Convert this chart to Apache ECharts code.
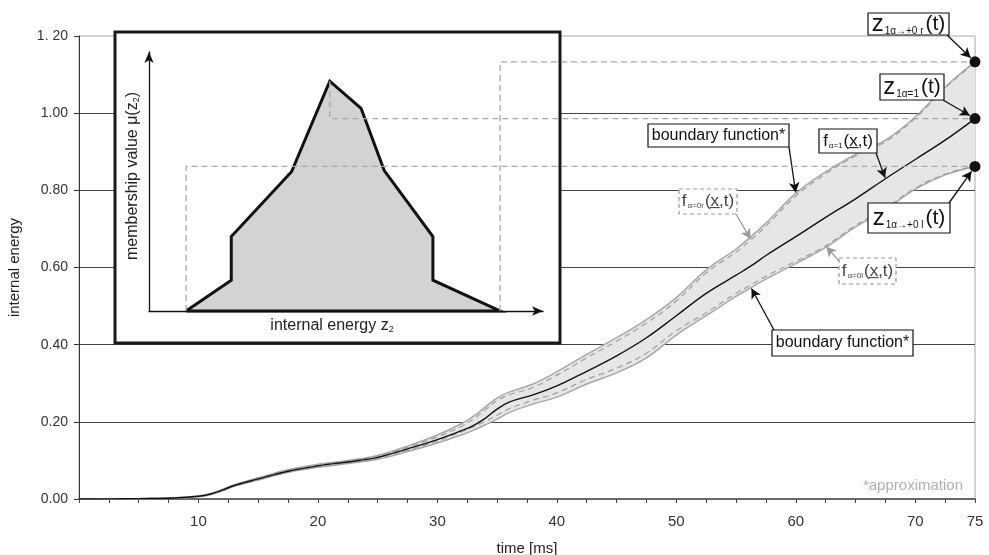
<!DOCTYPE html>
<html>
<head>
<meta charset="utf-8">
<script src="https://cdn.jsdelivr.net/npm/echarts@6/dist/echarts.min.js"></script>
<style>
  html, body { margin: 0; padding: 0; background: #fff; }
  #chart { width: 989px; height: 555px; }
</style>
</head>
<body>
<div id="chart"></div>
<script>
// time samples [ms]
const time = [0, 2.5, 5, 7.5, 10, 11, 12, 13, 15, 17.5, 20, 22.5, 25, 27.5, 30, 32, 33, 34, 35, 36, 38, 40,
              42.5, 45, 47.5, 50, 52.5, 55, 56.25, 57.5, 60, 62.5, 65, 67.5, 70, 72.5, 75];

// f_{alpha=1}(x,t)
const centerValues = [0, 0.0003, 0.001, 0.002, 0.007, 0.013, 0.023, 0.035, 0.052, 0.072, 0.086, 0.096, 0.108, 0.130,
                      0.154, 0.177, 0.190, 0.209, 0.233, 0.251, 0.270, 0.293, 0.331, 0.371, 0.418, 0.475, 0.533,
                      0.580, 0.604, 0.631, 0.680, 0.730, 0.778, 0.830, 0.880, 0.930, 0.986];

// upper boundary function (alpha -> +0, right)
const upperValues = [0, 0.0004, 0.0012, 0.003, 0.008, 0.014, 0.025, 0.037, 0.055, 0.076, 0.090, 0.100, 0.113, 0.137,
                     0.166, 0.195, 0.214, 0.238, 0.262, 0.277, 0.298, 0.330, 0.375, 0.418, 0.465, 0.522, 0.594,
                     0.648, 0.680, 0.715, 0.792, 0.848, 0.893, 0.930, 0.990, 1.068, 1.133];

// f_{alpha=0r}(x,t)
const upperDashValues = [0, 0.0004, 0.0011, 0.003, 0.008, 0.013, 0.024, 0.036, 0.054, 0.075, 0.088, 0.098, 0.111, 0.134,
                         0.161, 0.188, 0.207, 0.231, 0.255, 0.270, 0.289, 0.321, 0.366, 0.409, 0.456, 0.513, 0.586,
                         0.640, 0.672, 0.707, 0.785, 0.843, 0.889, 0.926, 0.987, 1.065, 1.131];

// lower boundary function (alpha -> +0, left)
const lowerValues = [0, 0.0002, 0.0008, 0.0015, 0.006, 0.011, 0.021, 0.033, 0.049, 0.069, 0.082, 0.092, 0.103, 0.123,
                     0.145, 0.166, 0.178, 0.192, 0.207, 0.224, 0.246, 0.264, 0.298, 0.327, 0.366, 0.425, 0.475,
                     0.525, 0.548, 0.570, 0.610, 0.652, 0.705, 0.750, 0.803, 0.840, 0.862];

// f_{alpha=0l}(x,t)
const lowerDashValues = [0, 0.0003, 0.0009, 0.0017, 0.0065, 0.0115, 0.0215, 0.0335, 0.0495, 0.0695, 0.083, 0.093, 0.104,
                         0.126, 0.150, 0.174, 0.187, 0.201, 0.217, 0.234, 0.256, 0.275, 0.310, 0.339, 0.378, 0.436,
                         0.483, 0.533, 0.555, 0.577, 0.616, 0.656, 0.709, 0.753, 0.806, 0.842, 0.863];

const xTickLabels = [10, 20, 30, 40, 50, 60, 70, 75];
const yTickLabels = ['0.00', '0.20', '0.40', '0.60', '0.80', '1.00', '1. 20'];

// membership function of the internal energy at t = 75 ms
const membershipEnergy = [0.862, 0.901, 0.901, 0.953, 0.986, 1.013, 1.033, 1.075, 1.075, 1.133];
const membershipValue  = [0, 0.134, 0.324, 0.606, 1, 0.882, 0.611, 0.324, 0.134, 0];

const FONT = "'Liberation Sans', Arial, Helvetica, sans-serif";
const SMOOTH = 0.4;
const pairs = ys => time.map((x, i) => [x, ys[i]]);
const last = a => a[a.length - 1];
const at = (ys, x) => ys[time.indexOf(x)];
const tEnd = last(time);

const membershipPath = membershipEnergy.map((e, i) => [e, membershipValue[i]]);
membershipPath.push([membershipEnergy[0], membershipValue[0]]);
const peakIndex = membershipValue.indexOf(Math.max(...membershipValue));

// annotation boxes (pixel layout)
const zRich = {
  z: { fontSize: 24, fontFamily: FONT, fill: '#111' },
  s: { fontSize: 10, fontFamily: FONT, fill: '#111', verticalAlign: 'bottom', padding: [0, 2, 0, 1] },
  p: { fontSize: 21, fontFamily: FONT, fill: '#111' }
};
const fRich = color => ({
  f: { fontSize: 17, fontFamily: FONT, fill: color },
  s: { fontSize: 8, fontFamily: FONT, fill: color, verticalAlign: 'bottom', padding: [0, 1, 0, 1] },
  p: { fontSize: 17, fontFamily: FONT, fill: color }
});
const boxes = [
  { x: 868, y: 13,  w: 81,  h: 22, text: '{z|z}{s|1α→+0 r}{p|(t)}', rich: zRich },
  { x: 880, y: 74,  w: 64,  h: 26, text: '{z|z}{s|1α=1}{p|(t)}', rich: zRich },
  { x: 868, y: 203, w: 82,  h: 30, text: '{z|z}{s|1α→+0 l}{p|(t)}', rich: zRich },
  { x: 648, y: 124, w: 141, h: 23, text: 'boundary function*', size: 16 },
  { x: 819, y: 129, w: 58,  h: 24, text: '{f|f}{s|α=1}{p|(x\u0332,t)}', rich: fRich('#111') },
  { x: 679, y: 189, w: 58,  h: 25, text: '{f|f}{s|α=0r}{p|(x\u0332,t)}', rich: fRich('#444'), dashed: true },
  { x: 839, y: 258, w: 57,  h: 26, text: '{f|f}{s|α=0l}{p|(x\u0332,t)}', rich: fRich('#444'), dashed: true },
  { x: 772, y: 330, w: 141, h: 26, text: 'boundary function*', size: 16 }
];

const graphics = [
  // inset frame
  { type: 'rect', z: 1, shape: { x: 115, y: 32, width: 445, height: 311 },
    style: { fill: '#fff', stroke: '#1a1a1a', lineWidth: 3 } },
  { type: 'text', z: 20, style: { text: '*approximation', x: 963, y: 486, align: 'right', verticalAlign: 'middle',
    fontSize: 15, fontFamily: FONT, fill: '#b0b0b0' } }
];
boxes.forEach(b => {
  graphics.push({ type: 'rect', z: 20, shape: { x: b.x, y: b.y, width: b.w, height: b.h },
    style: { fill: '#fff', stroke: b.dashed ? '#9a9a9a' : '#111', lineWidth: 1.2, lineDash: b.dashed ? [4, 3] : null } });
  const st = { text: b.text, x: b.x + b.w / 2, y: b.y + b.h / 2, align: 'center', verticalAlign: 'middle',
               fontFamily: FONT, fontSize: b.size || 16, fill: '#111' };
  if (b.rich) st.rich = b.rich;
  graphics.push({ type: 'text', z: 21, style: st });
});

// shaded region between the two boundary functions
function renderBand(params, api) {
  const pts = [];
  for (let i = 0; i < time.length; i++) pts.push(api.coord([time[i], upperValues[i]]));
  for (let i = time.length - 1; i >= 0; i--) pts.push(api.coord([time[i], lowerValues[i]]));
  return { type: 'polygon', shape: { points: pts }, style: { fill: '#e6e6e6' } };
}

const gray = '#a8a8a8';
const option = {
  animation: false,
  backgroundColor: '#fff',
  textStyle: { fontFamily: FONT },
  graphic: graphics,
  grid: [
    { left: 79, right: 14, top: 36, bottom: 56, show: true, borderColor: '#a8a8a8', borderWidth: 1,
      containLabel: false, outerBoundsMode: 'none' },
    { left: 149, top: 52, width: 394, height: 259, containLabel: false, outerBoundsMode: 'none' }
  ],
  xAxis: [
    {
      type: 'value', gridIndex: 0, min: 0, max: 75, interval: 2.5,
      axisLine: { show: true, lineStyle: { color: '#6a6a6a', width: 2 } },
      axisTick: { show: true, length: 4, lineStyle: { color: '#444' } },
      axisLabel: { fontSize: 15, color: '#333', margin: 15, showMaxLabel: true,
        formatter: v => (xTickLabels.indexOf(v) >= 0 ? String(v) : '') },
      splitLine: { show: false },
      name: 'time [ms]', nameLocation: 'middle', nameGap: 42,
      nameTextStyle: { fontSize: 15, color: '#222' }
    },
    {
      type: 'value', gridIndex: 1, min: 0.830, max: 1.170, z: 5,
      axisLine: { show: true, onZero: true, symbol: ['none', 'arrow'], symbolSize: [7, 11],
        lineStyle: { color: '#111', width: 1.3 } },
      axisTick: { show: false }, axisLabel: { show: false }, splitLine: { show: false },
      name: '{a|internal energy z}{s|2}', nameLocation: 'middle', nameGap: 7,
      nameTextStyle: { padding: [0, 28, 0, 0],
        rich: { a: { fontSize: 16, color: '#222' }, s: { fontSize: 9, color: '#222', verticalAlign: 'bottom' } } }
    }
  ],
  yAxis: [
    {
      type: 'value', gridIndex: 0, min: 0, max: 1.2, interval: 0.2,
      axisLine: { show: true, lineStyle: { color: '#333', width: 1 } },
      axisTick: { show: true, length: 5, lineStyle: { color: '#333' } },
      axisLabel: { fontSize: 14, color: '#333', margin: 11,
        formatter: v => yTickLabels[Math.round(v / 0.2)] },
      splitLine: { show: true, showMinLine: false, showMaxLine: false, lineStyle: { color: '#444', width: 1 } },
      name: 'internal energy', nameLocation: 'middle', nameGap: 57,
      nameTextStyle: { fontSize: 15, color: '#222' }
    },
    {
      type: 'value', gridIndex: 1, min: 0, max: 1.127, z: 5,
      axisLine: { show: true, symbol: ['none', 'arrow'], symbolSize: [7, 11],
        lineStyle: { color: '#111', width: 1.3 } },
      axisTick: { show: false }, axisLabel: { show: false }, splitLine: { show: false },
      name: '{a|membership value μ(z}{s|2}{a|)}', nameLocation: 'middle', nameGap: 8,
      nameTextStyle: { padding: [0, 0, 0, 11],
        rich: { a: { fontSize: 16, color: '#222' }, s: { fontSize: 9, color: '#222', verticalAlign: 'bottom' } } }
    }
  ],
  series: [
    { id: 'band', type: 'custom', renderItem: renderBand, data: [[tEnd, 0]], z: 2, silent: true },
    { id: 'upper', type: 'line', data: pairs(upperValues), symbol: 'none', smooth: SMOOTH,
      lineStyle: { color: gray, width: 1.5 }, z: 3 },
    { id: 'lower', type: 'line', data: pairs(lowerValues), symbol: 'none', smooth: SMOOTH,
      lineStyle: { color: gray, width: 1.5 }, z: 3 },
    { id: 'upperDash', type: 'line', data: pairs(upperDashValues), symbol: 'none', smooth: SMOOTH,
      lineStyle: { color: '#9e9e9e', width: 1.2, type: [6, 4] }, z: 4 },
    { id: 'lowerDash', type: 'line', data: pairs(lowerDashValues), symbol: 'none', smooth: SMOOTH,
      lineStyle: { color: '#9e9e9e', width: 1.2, type: [6, 4] }, z: 4 },
    { id: 'center', type: 'line', data: pairs(centerValues), symbol: 'none', smooth: SMOOTH,
      lineStyle: { color: '#111', width: 1.4 }, z: 5 },
    { id: 'membership', type: 'line', xAxisIndex: 1, yAxisIndex: 1, data: membershipPath, symbol: 'none',
      clip: false, lineStyle: { color: '#111', width: 3, join: 'miter' },
      areaStyle: { color: '#d3d3d3', opacity: 1 }, z: 6 },
    { id: 'conn0', type: 'line', data: [], symbol: 'none', clip: false,
      lineStyle: { color: '#a8a8a8', width: 1.3, type: [6, 4] }, z: 7 },
    { id: 'conn1', type: 'line', data: [], symbol: 'none', clip: false,
      lineStyle: { color: '#a8a8a8', width: 1.3, type: [6, 4] }, z: 7 },
    { id: 'conn2', type: 'line', data: [], symbol: 'none', clip: false,
      lineStyle: { color: '#a8a8a8', width: 1.3, type: [6, 4] }, z: 7 },
    { id: 'dots', type: 'scatter', clip: false, symbolSize: 11, itemStyle: { color: '#111', opacity: 1 }, z: 9,
      data: [[tEnd, last(upperValues)], [tEnd, last(centerValues)], [tEnd, last(lowerValues)]] }
  ]
};

const chart = echarts.init(document.getElementById('chart'));
chart.setOption(option);

// dashed projection lines from the membership function to the end values
const connectorPoints = [0, peakIndex, membershipEnergy.length - 1].map(i => {
  const e = membershipEnergy[i];
  const p = chart.convertToPixel({ gridIndex: 1 }, [e, membershipValue[i]]);
  const q = chart.convertFromPixel({ gridIndex: 0 }, p);
  return [[q[0], q[1]], [q[0], e], [tEnd, e]];
});

// leader arrows from the annotation boxes
function arrow(start, target, gap, color) {
  const p = chart.convertToPixel({ gridIndex: 0 }, target);
  const dx = p[0] - start[0], dy = p[1] - start[1];
  const len = Math.hypot(dx, dy);
  return [
    { x: start[0], y: start[1], lineStyle: { color: color, width: 1.3, type: 'solid' } },
    { x: p[0] - dx / len * gap, y: p[1] - dy / len * gap }
  ];
}
const arrows = [
  arrow([947, 35], [tEnd, last(upperValues)], 6, '#111'),
  arrow([943, 100], [tEnd, last(centerValues)], 6, '#111'),
  arrow([949, 203], [tEnd, last(lowerValues)], 6, '#111'),
  arrow([789, 147], [60, at(upperValues, 60)], 1, '#111'),
  arrow([876, 153], [67.5, at(centerValues, 67.5)], 1, '#111'),
  arrow([736, 214], [56.25, at(upperDashValues, 56.25)], 1, '#9a9a9a'),
  arrow([839, 261], [62.5, at(lowerDashValues, 62.5)], 1, '#9a9a9a'),
  arrow([774, 330], [56.25, at(lowerValues, 56.25)], 1, '#111')
];

chart.setOption({
  series: [
    { id: 'conn0', data: connectorPoints[0] },
    { id: 'conn1', data: connectorPoints[1] },
    { id: 'conn2', data: connectorPoints[2] },
    { id: 'dots', markLine: { silent: true, animation: false, symbol: ['none', 'arrow'], symbolSize: [8, 10],
        label: { show: false }, emphasis: { disabled: true }, data: arrows } }
  ]
});
</script>
</body>
</html>
